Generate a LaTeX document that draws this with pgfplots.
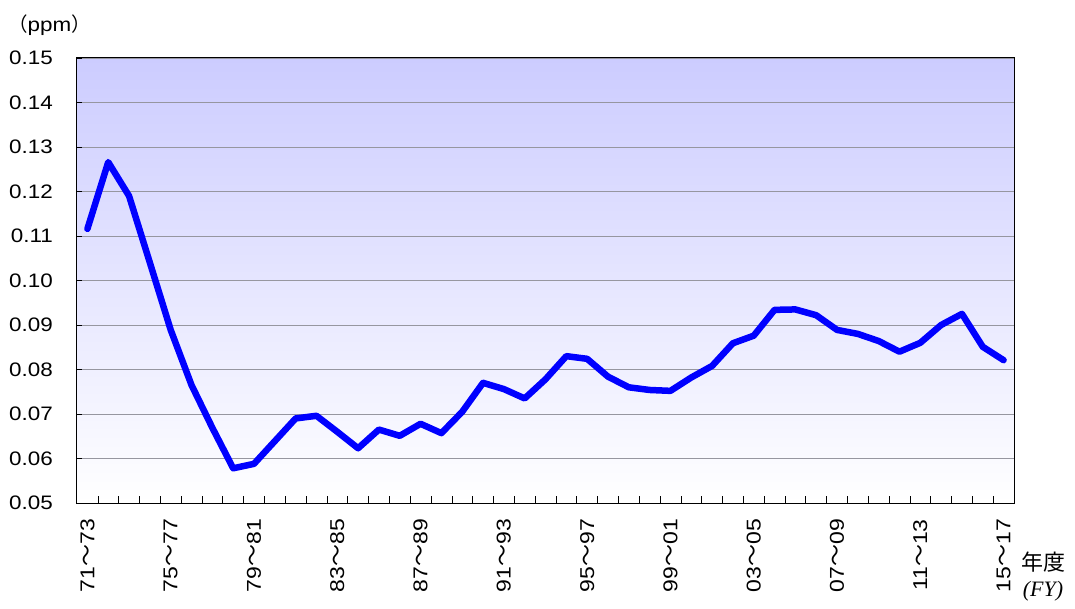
\documentclass[border=0pt]{standalone}
\usepackage{fontspec}
\setmainfont{Liberation Sans}
\newfontfamily\widefont[FakeStretch=1.15]{Liberation Sans}
\newfontfamily\cjk{Noto Sans CJK JP}
\newfontfamily\seriffont{Liberation Serif}
\usepackage{pgfplots}
\pgfplotsset{compat=1.18}
\definecolor{bgtop}{RGB}{204,204,255}
\definecolor{gridc}{RGB}{150,150,160}
\newcommand\tl{{\cjk\fontsize{22}{24}\selectfont ～}}
\pgfplotstableread{
x y
0 0.1116
1 0.1266
2 0.1190
3 0.1040
4 0.0889
5 0.0765
6 0.0669
7 0.0578
8 0.0588
9 0.0639
10 0.0690
11 0.0696
12 0.0660
13 0.0623
14 0.0665
15 0.0651
16 0.0678
17 0.0657
18 0.0705
19 0.0770
20 0.0756
21 0.0735
22 0.0778
23 0.0830
24 0.0824
25 0.0784
26 0.0760
27 0.0754
28 0.0752
29 0.0782
30 0.0808
31 0.0859
32 0.0876
33 0.0934
34 0.0935
35 0.0922
36 0.0889
37 0.0880
38 0.0864
39 0.0840
40 0.0860
41 0.0900
42 0.0925
43 0.0851
44 0.0821
}\datatable
\begin{document}
\begin{tikzpicture}
\begin{axis}[
  scale only axis, width=937pt, height=445pt,
  at={(0,0)}, anchor=south west,
  xmin=-0.5, xmax=44.5, ymin=0.05, ymax=0.15,
  ytick={0.05,0.06,0.07,0.08,0.09,0.10,0.11,0.12,0.13,0.14,0.15},
  /pgf/number format/fixed, /pgf/number format/fixed zerofill,
  /pgf/number format/precision=2, /pgf/number format/assume math mode=true,
  yticklabel style={font=\widefont\fontsize{19.5}{24}\selectfont, inner sep=0pt},
  yticklabel shift=24pt,
  ymajorgrids, grid style={gridc, line width=0.9pt},
  axis background/.style={top color=bgtop, bottom color=white},
  axis line style={black, line width=1pt},
  xtick={0,4,...,44},
  xticklabels={71\tl73,75\tl77,79\tl81,83\tl85,87\tl89,91\tl93,95\tl97,99\tl01,03\tl05,07\tl09,11\tl13,15\tl17},
  xticklabel style={font=\widefont\fontsize{20}{24}\selectfont, rotate=90, anchor=east, inner sep=0pt},
  xticklabel shift=16pt,
  minor xtick={0.5,1.5,...,43.5},
  major x tick style={draw=none},
  minor tick length=7pt, major tick length=5pt,
  tick align=inside, tick pos=left,
  tick style={black, line width=0.6pt},
]
\addplot[blue, line width=6.5pt, line join=round, line cap=round] table[x=x,y=y] {\datatable};
\end{axis}
\node[anchor=west, font=\widefont\fontsize{19.5}{24}\selectfont, inner sep=0pt] at (-69pt,478pt) {{\cjk （}ppm{\cjk ）}};
\node[font=\cjk\fontsize{22}{26}\selectfont, inner sep=0pt] at (966pt,-59pt) {年度};
\node[font=\seriffont\itshape\fontsize{22}{26}\selectfont, inner sep=0pt] at (966pt,-88pt) {(FY)};
\pgfresetboundingbox
\path[use as bounding box] (-77pt,-105pt) rectangle (998pt,503pt);
\end{tikzpicture}
\end{document}
